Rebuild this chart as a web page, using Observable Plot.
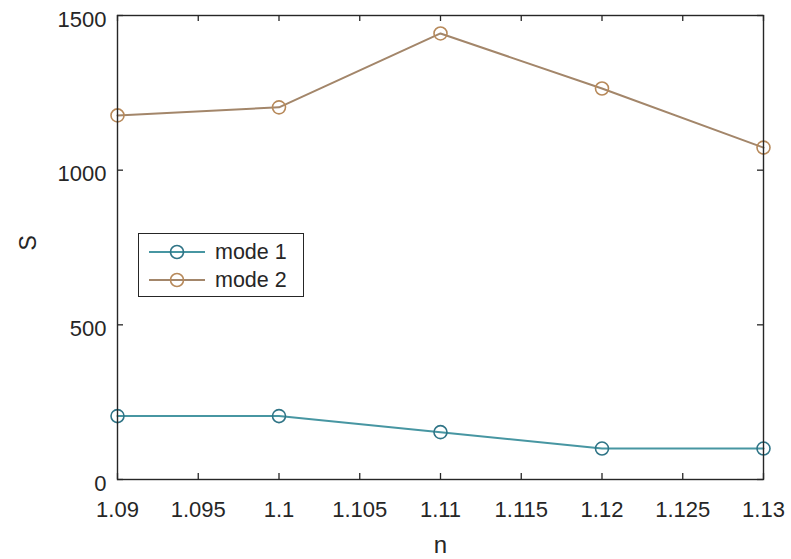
<!DOCTYPE html>
<html>
<head>
<meta charset="utf-8">
<script src="https://cdn.jsdelivr.net/npm/d3@7"></script>
<script src="https://cdn.jsdelivr.net/npm/@observablehq/plot@0.6"></script>
<style>
  html, body { margin: 0; padding: 0; background: #fff; }
  #wrap { position: relative; width: 791px; height: 559px; font-family: "Liberation Sans", Arial, Helvetica, sans-serif; }
  #legend { position: absolute; left: 138px; top: 233px; width: 166px; height: 64px; border: 1.3px solid #262626; background: #fff; box-sizing: border-box; }
  .item { position: absolute; left: 8px; height: 24px; display: flex; align-items: center; font-size: 21.5px; color: #262626; }
  .item svg { margin-right: 8px; }
</style>
</head>
<body>
<div id="wrap"></div>
<script>
// Mode values S against refractive index n
const n = [1.09, 1.1, 1.11, 1.12, 1.13];
const mode1 = [205, 205, 153, 100, 100];
const mode2 = [1177, 1203, 1442, 1264, 1073];
const seriesNames = ["mode 1", "mode 2"];
const lineColors = ["#4796a2", "#a3866a"];
const markerColors = ["#2f7486", "#b7895a"];

const xTicks = [1.09, 1.095, 1.1, 1.105, 1.11, 1.115, 1.12, 1.125, 1.13];
const xTickLabels = ["1.09", "1.095", "1.1", "1.105", "1.11", "1.115", "1.12", "1.125", "1.13"];
const yTicks = [0, 500, 1000, 1500];
const yTickLabels = ["0", "500", "1000", "1500"];

const rows = [];
[mode1, mode2].forEach((vals, s) => vals.forEach((v, i) => rows.push({n: n[i], S: v, series: seriesNames[s]})));

const W = 791, H = 559;
const mL = 117, mR = 28, mT = 15, mB = 80;
const plotW = W - mL - mR, plotH = H - mT - mB;
const ink = "#262626";
const tickLen = 6;

const chart = Plot.plot({
  width: W,
  height: H,
  marginLeft: mL,
  marginRight: mR,
  marginTop: mT,
  marginBottom: mB,
  style: {fontFamily: '"Liberation Sans", Arial, Helvetica, sans-serif', color: ink, background: "#fff"},
  x: {domain: [1.09, 1.13]},
  y: {domain: [0, 1500]},
  color: {domain: seriesNames, range: lineColors},
  marks: [
    Plot.axisX(xTicks, {tickSize: 0, tickPadding: 22, fontSize: 22, label: null, tickFormat: (d, i) => xTickLabels[i], fill: ink}),
    Plot.axisY(yTicks, {tickSize: 0, tickPadding: 11, fontSize: 22, label: null, dy: 4, tickFormat: (d, i) => yTickLabels[i], fill: ink}),
    // inward ticks on all four sides of the box
    Plot.tickX(xTicks, {x: d => d, insetTop: plotH - tickLen, stroke: ink, strokeWidth: 1.3}),
    Plot.tickX(xTicks, {x: d => d, insetBottom: plotH - tickLen, stroke: ink, strokeWidth: 1.3}),
    Plot.tickY(yTicks, {y: d => d, insetRight: plotW - tickLen, stroke: ink, strokeWidth: 1.3}),
    Plot.tickY(yTicks, {y: d => d, insetLeft: plotW - tickLen, stroke: ink, strokeWidth: 1.3}),
    Plot.line(rows, {x: "n", y: "S", z: "series", stroke: "series", strokeWidth: 2}),
    Plot.dot(rows, {x: "n", y: "S", r: 6.5, stroke: d => markerColors[seriesNames.indexOf(d.series)], strokeWidth: 1.6, fill: "none"}),
    Plot.frame({stroke: ink, strokeWidth: 1.4}),
    Plot.text(["n"], {frameAnchor: "bottom", dy: 73, fontSize: 24, fill: ink}),
    Plot.text(["S"], {frameAnchor: "left", dx: -89, dy: 3, rotate: -90, fontSize: 23, fill: ink})
  ]
});

const wrap = document.getElementById("wrap");
wrap.appendChild(chart);

// legend box inside the axes
const legend = document.createElement("div");
legend.id = "legend";
seriesNames.forEach((name, i) => {
  const item = document.createElement("div");
  item.className = "item";
  item.style.top = (6 + i * 28) + "px";
  item.innerHTML = `<svg width="60" height="20"><line x1="2" y1="10" x2="58" y2="10" stroke="${lineColors[i]}" stroke-width="2"/><circle cx="30" cy="10" r="6.5" fill="none" stroke="${markerColors[i]}" stroke-width="1.6"/></svg><span>${name}</span>`;
  legend.appendChild(item);
});
wrap.appendChild(legend);
</script>
</body>
</html>
